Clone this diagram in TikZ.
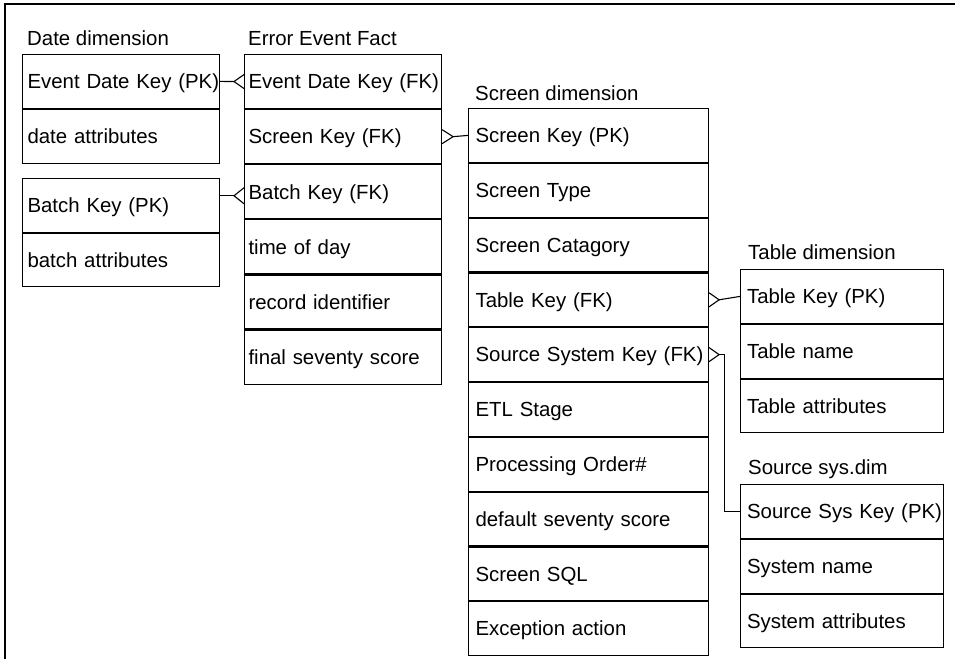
\documentclass[tikz,border=0pt]{standalone}
\usepackage{fontspec}
\setmainfont{Liberation Sans}
\usetikzlibrary{calc}
\newcommand\cell[1]{\mbox{#1}}
\begin{document}
\begin{tikzpicture}[x=1pt,y=-1pt,
  every node/.style={font=\fontsize{20.4}{24}\selectfont},
  row/.style={draw, line width=1.1pt, anchor=north west, inner ysep=0pt,
    minimum height=53.7pt, text height=14.6pt, text depth=0pt, align=left},
  datecol/.style={row, minimum width=197pt, text width=187pt, inner xsep=5pt},
  factcol/.style={row, minimum width=197pt, text width=189pt, inner xsep=4pt},
  scrcol/.style={row, minimum width=240pt, text width=226pt, inner xsep=7pt},
  tabcol/.style={row, minimum width=203pt, text width=190pt, inner xsep=6.5pt},
  title/.style={anchor=base west, inner sep=0pt},
  link/.style={line width=1.1pt},
]
\useasboundingbox (0,0) rectangle (955,659);
\draw[line width=1.5pt] (5,659) -- (5,4) -- (955,4);

% Date dimension
\node[title] (tdate) at (27,45) {Date dimension};
\node[datecol] (d1) at (22,54) {\cell{Event Date Key (PK)}};
\node[datecol] (d2) at (d1.south west) {\cell{date attributes}};

% Batch
\node[datecol, minimum height=53.5pt] (b1) at (22,178) {\cell{Batch Key (PK)}};
\node[datecol, minimum height=53.5pt] (b2) at (b1.south west) {\cell{batch attributes}};

% Error Event Fact
\node[title] (tfact) at (248,45) {Error Event Fact};
\node[factcol, minimum height=54pt] (f1) at (244,54) {\cell{Event Date Key (FK)}};
\node[factcol, minimum height=54pt] (f2) at (f1.south west) {\cell{Screen Key (FK)}};
\node[factcol, minimum height=54pt] (f3) at (f2.south west) {\cell{Batch Key (FK)}};
\node[factcol, minimum height=54pt] (f4) at (f3.south west) {\cell{time of day}};
\node[factcol, minimum height=54pt] (f5) at (f4.south west) {\cell{record identifier}};
\node[factcol, minimum height=54pt] (f6) at (f5.south west) {\cell{final seventy score}};

% Screen dimension
\node[title] (tscr) at (475,100) {Screen dimension};
\node[scrcol] (s1) at (468,108) {\cell{Screen Key (PK)}};
\node[scrcol] (s2) at (s1.south west) {\cell{Screen Type}};
\node[scrcol] (s3) at (s2.south west) {\cell{Screen Catagory}};
\node[scrcol] (s4) at (s3.south west) {\cell{Table Key (FK)}};
\node[scrcol] (s5) at (s4.south west) {\cell{Source System Key (FK)}};
\node[scrcol] (s6) at (s5.south west) {\cell{ETL Stage}};
\node[scrcol] (s7) at (s6.south west) {\cell{Processing Order\#}};
\node[scrcol] (s8) at (s7.south west) {\cell{default seventy score}};
\node[scrcol] (s9) at (s8.south west) {\cell{Screen SQL}};
\node[scrcol] (s10) at (s9.south west) {\cell{Exception action}};

% Table dimension
\node[title] (ttab) at (748,259) {Table dimension};
\node[tabcol] (t1) at (740,269) {\cell{Table Key (PK)}};
\node[tabcol] (t2) at (t1.south west) {\cell{Table name}};
\node[tabcol] (t3) at (t2.south west) {\cell{Table attributes}};

% Source sys.dim
\node[title] (tsrc) at (748,474) {Source sys.dim};
\node[tabcol] (r1) at (740,484) {\cell{Source Sys Key (PK)}};
\node[tabcol] (r2) at (r1.south west) {\cell{System name}};
\node[tabcol] (r3) at (r2.south west) {\cell{System attributes}};

% Connectors
\coordinate (c1) at ($(f1.west)+(-10,0)$);
\draw[link] (d1.east) -- (c1);
\draw[link] ($(f1.west)+(0,-7)$) -- (c1) -- ($(f1.west)+(0,7)$);

\coordinate (c3) at ($(f3.west)+(-10,4)$);
\draw[link] (b1.east |- c3) -- (c3);
\draw[link] ($(f3.west)+(0,-4)$) -- (c3) -- ($(f3.west)+(0,12)$);

\coordinate (c2) at ($(f2.east)+(11,0)$);
\draw[link] (c2) -- (s1.west);
\draw[link] ($(f2.east)+(0,-7)$) -- (c2) -- ($(f2.east)+(0,7)$);

\coordinate (c4) at ($(s4.east)+(10,0)$);
\draw[link] (c4) -- (t1.west);
\draw[link] ($(s4.east)+(0,-7)$) -- (c4) -- ($(s4.east)+(0,7)$);

\coordinate (c5) at ($(s5.east)+(10,0)$);
\draw[link] (c5) -- ++(5,0) |- (r1.west);
\draw[link] ($(s5.east)+(0,-7)$) -- (c5) -- ($(s5.east)+(0,7)$);
\end{tikzpicture}
\end{document}
